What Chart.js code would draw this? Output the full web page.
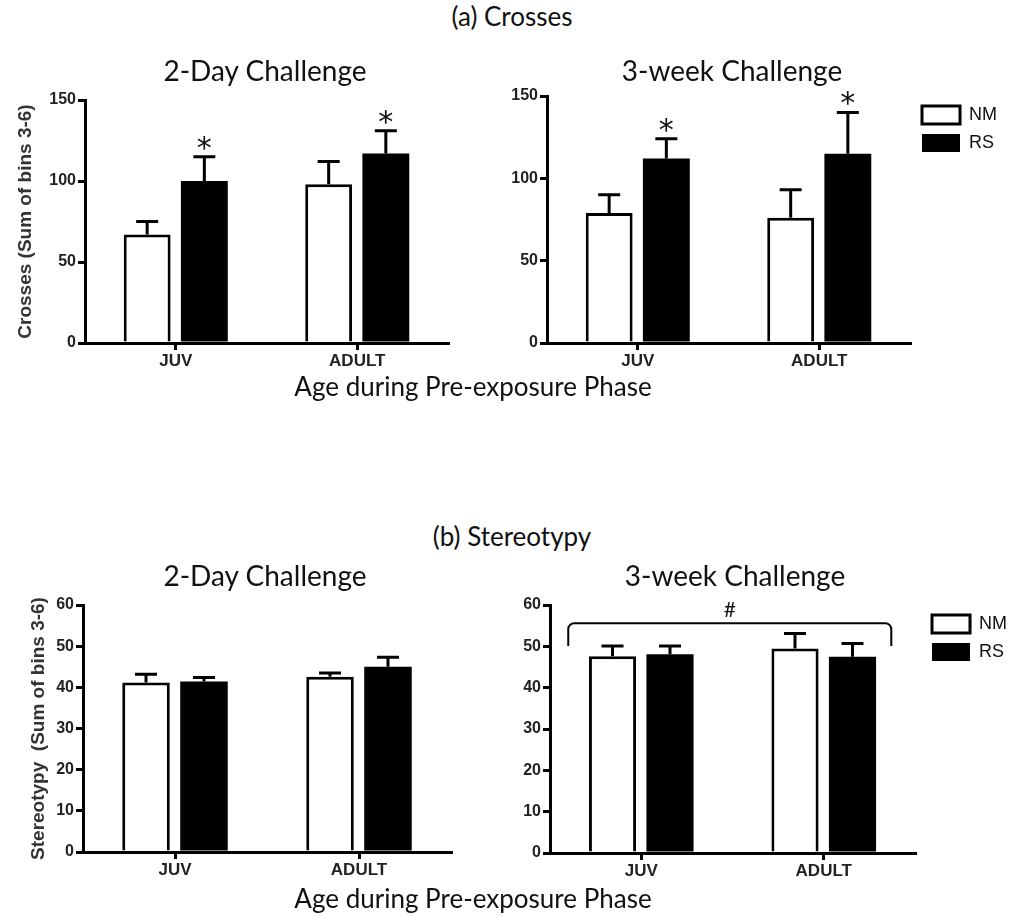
<!DOCTYPE html>
<html lang="en">
<head>
    <meta charset="UTF-8">
    <title>Crosses and Stereotypy</title>
    <script src="https://cdn.jsdelivr.net/npm/chart.js"></script>
    <style>
        body {
            margin: 0;
            background: #fff;
            width: 1025px;
            height: 916px;
            position: relative;
            overflow: hidden;
        }
        .label {
            position: absolute;
            font-family: Lato, sans-serif;
            font-size: 26px;
            line-height: 1;
            color: #111;
            white-space: nowrap;
            transform: translate(-50%, -50%);
            z-index: 2;
        }
        .label.sub {
            font-size: 28px;
        }
        canvas {
            position: absolute;
        }
    </style>
</head>
<body>
    <div class="label" style="left:512px; top:16px;">(a) Crosses</div>
    <div class="label sub" style="left:265px; top:70px;">2-Day Challenge</div>
    <div class="label sub" style="left:732px; top:70px;">3-week Challenge</div>
    <div class="label" style="left:473px; top:386px;">Age during Pre-exposure Phase</div>

    <div class="label" style="left:512px; top:536px;">(b) Stereotypy</div>
    <div class="label sub" style="left:265px; top:575px;">2-Day Challenge</div>
    <div class="label sub" style="left:735px; top:575px;">3-week Challenge</div>
    <div class="label" style="left:473px; top:898px;">Age during Pre-exposure Phase</div>

    <canvas id="cross2d" width="470" height="300" style="left:0; top:80px;"></canvas>
    <canvas id="cross3w" width="545" height="300" style="left:480px; top:80px;"></canvas>
    <canvas id="stereo2d" width="470" height="300" style="left:0; top:590px;"></canvas>
    <canvas id="stereo3w" width="545" height="300" style="left:480px; top:590px;"></canvas>

    <script>
        const categories = ['JUV', 'ADULT'];
        const groups = ['NM', 'RS'];

        const crossesTicks = [0, 50, 100, 150];
        const stereoTicks = [0, 10, 20, 30, 40, 50, 60];

        // (a) Crosses - 2-Day Challenge (mean, SEM)
        const cross2dNM = [67, 98];
        const cross2dNMsem = [8, 14];
        const cross2dRS = [100, 117];
        const cross2dRSsem = [15, 14];
        const cross2dRSmarks = ['*', '*'];

        // (a) Crosses - 3-week Challenge
        const cross3wNM = [79, 76];
        const cross3wNMsem = [11, 17];
        const cross3wRS = [112, 115];
        const cross3wRSsem = [12, 25];
        const cross3wRSmarks = ['*', '*'];

        // (b) Stereotypy - 2-Day Challenge
        const stereo2dNM = [41.2, 42.6];
        const stereo2dNMsem = [2.0, 0.9];
        const stereo2dRS = [41.4, 45.0];
        const stereo2dRSsem = [1.0, 2.3];

        // (b) Stereotypy - 3-week Challenge
        const stereo3wNM = [47.6, 49.5];
        const stereo3wNMsem = [2.5, 3.6];
        const stereo3wRS = [48.1, 47.5];
        const stereo3wRSsem = [2.0, 3.2];
        const stereo3wNote = '#';

        Chart.defaults.font.family = "'Liberation Sans', Arial, sans-serif";
        Chart.defaults.color = '#222';

        // error bars (upper half only) and significance marks
        const errorBars = {
            id: 'errorBars',
            afterDatasetsDraw(chart) {
                const ctx = chart.ctx;
                const y = chart.scales.y;
                ctx.save();
                ctx.strokeStyle = '#000';
                ctx.fillStyle = '#111';
                ctx.lineWidth = 3;
                ctx.font = '30px "DejaVu Sans"';
                ctx.textAlign = 'center';
                chart.data.datasets.forEach((ds, i) => {
                    chart.getDatasetMeta(i).data.forEach((bar, j) => {
                        const top = y.getPixelForValue(ds.data[j] + ds.sem[j]);
                        ctx.beginPath();
                        ctx.moveTo(bar.x, bar.y);
                        ctx.lineTo(bar.x, top);
                        ctx.moveTo(bar.x - 11, top);
                        ctx.lineTo(bar.x + 11, top);
                        ctx.stroke();
                        if (ds.marks && ds.marks[j]) {
                            ctx.fillText(ds.marks[j], bar.x, top + 1);
                        }
                    });
                });
                ctx.restore();
            }
        };

        // bracket over both groups with a note
        const bracket = {
            id: 'bracket',
            afterDatasetsDraw(chart, args, opts) {
                if (!opts.text) return;
                const { ctx, scales: { x, y } } = chart;
                const x1 = x.getPixelForValue(opts.from);
                const x2 = x.getPixelForValue(opts.to);
                const yt = y.getPixelForValue(opts.top);
                const yb = y.getPixelForValue(opts.foot);
                const r = 6;
                ctx.save();
                ctx.strokeStyle = '#000';
                ctx.lineWidth = 2;
                ctx.beginPath();
                ctx.moveTo(x1, yb);
                ctx.arcTo(x1, yt, x1 + r, yt, r);
                ctx.arcTo(x2, yt, x2, yt + r, r);
                ctx.lineTo(x2, yb);
                ctx.stroke();
                ctx.fillStyle = '#111';
                ctx.font = '21px Lato';
                ctx.textAlign = 'center';
                ctx.fillText(opts.text, (x1 + x2) / 2, yt - 6);
                ctx.restore();
            }
        };

        // move legend a little away from the plot
        const legendShift = {
            id: 'legendShift',
            afterLayout(chart, args, opts) {
                if (chart.legend && opts.dx) {
                    chart.legend.left += opts.dx;
                    chart.legend.right += opts.dx;
                }
            }
        };

        function makeChart(id, cfg) {
            const datasets = [
                {
                    label: groups[0],
                    data: cfg.nm,
                    sem: cfg.nmSem,
                    marks: cfg.nmMarks,
                    backgroundColor: '#fff',
                    borderColor: '#000',
                    borderWidth: 3
                },
                {
                    label: groups[1],
                    data: cfg.rs,
                    sem: cfg.rsSem,
                    marks: cfg.rsMarks,
                    backgroundColor: '#000',
                    borderColor: '#000',
                    borderWidth: 0
                }
            ];
            const ticks = cfg.ticks;
            return new Chart(document.getElementById(id), {
                type: 'bar',
                data: { labels: categories, datasets },
                plugins: [errorBars, bracket, legendShift],
                options: {
                    responsive: false,
                    animation: false,
                    devicePixelRatio: 1,
                    categoryPercentage: 0.63,
                    barPercentage: 0.82,
                    layout: { padding: { top: cfg.padTop, right: cfg.padRight, left: 0, bottom: 0 } },
                    scales: {
                        x: {
                            grid: {
                                offset: false,
                                drawOnChartArea: false,
                                color: '#000',
                                lineWidth: 3,
                                tickLength: 7
                            },
                            border: { color: '#000', width: 3 },
                            ticks: { font: { size: 17, weight: 'bold' }, padding: 1 },
                            afterFit: s => { s.height = cfg.xHeight; }
                        },
                        y: {
                            min: ticks[0],
                            max: ticks[ticks.length - 1],
                            afterBuildTicks: s => { s.ticks = ticks.map(v => ({ value: v })); },
                            grid: {
                                drawOnChartArea: false,
                                color: '#000',
                                lineWidth: 3,
                                tickLength: 7
                            },
                            border: { color: '#000', width: 3 },
                            ticks: { font: { size: 16, weight: 'bold' }, padding: 2 },
                            title: {
                                display: !!cfg.yTitle,
                                text: cfg.yTitle || '',
                                font: { size: 19, weight: 'bold' },
                                color: '#333',
                                padding: { top: cfg.titlePad || 0, bottom: 0 }
                            },
                            afterFit: s => { s.width = cfg.yWidth; }
                        }
                    },
                    plugins: {
                        tooltip: { enabled: false },
                        legend: {
                            display: !!cfg.legend,
                            position: 'right',
                            align: 'start',
                            labels: {
                                boxWidth: 38,
                                boxHeight: 18,
                                padding: 10,
                                color: '#111',
                                font: { size: 18 }
                            }
                        },
                        legendShift: { dx: cfg.legendDx || 0 },
                        bracket: cfg.bracket || {}
                    }
                }
            });
        }

        makeChart('cross2d', {
            nm: cross2dNM, nmSem: cross2dNMsem,
            rs: cross2dRS, rsSem: cross2dRSsem, rsMarks: cross2dRSmarks,
            ticks: crossesTicks,
            yTitle: 'Crosses (Sum of bins 3-6)', titlePad: 14,
            yWidth: 85, xHeight: 37, padTop: 20, padRight: 22
        });

        makeChart('cross3w', {
            nm: cross3wNM, nmSem: cross3wNMsem,
            rs: cross3wRS, rsSem: cross3wRSsem, rsMarks: cross3wRSmarks,
            ticks: crossesTicks,
            yWidth: 67, xHeight: 37, padTop: 16, padRight: 20,
            legend: true, legendDx: 2
        });

        makeChart('stereo2d', {
            nm: stereo2dNM, nmSem: stereo2dNMsem,
            rs: stereo2dRS, rsSem: stereo2dRSsem,
            ticks: stereoTicks,
            yTitle: 'Stereotypy  (Sum of bins 3-6)', titlePad: 27,
            yWidth: 83, xHeight: 38, padTop: 15, padRight: 19
        });

        makeChart('stereo3w', {
            nm: stereo3wNM, nmSem: stereo3wNMsem,
            rs: stereo3wRS, rsSem: stereo3wRSsem,
            ticks: stereoTicks,
            yWidth: 70, xHeight: 37, padTop: 15, padRight: 15,
            legend: true, legendDx: 7,
            bracket: { text: stereo3wNote, from: -0.4, to: 1.37, top: 55.6, foot: 50.1 }
        });
    </script>
</body>
</html>
